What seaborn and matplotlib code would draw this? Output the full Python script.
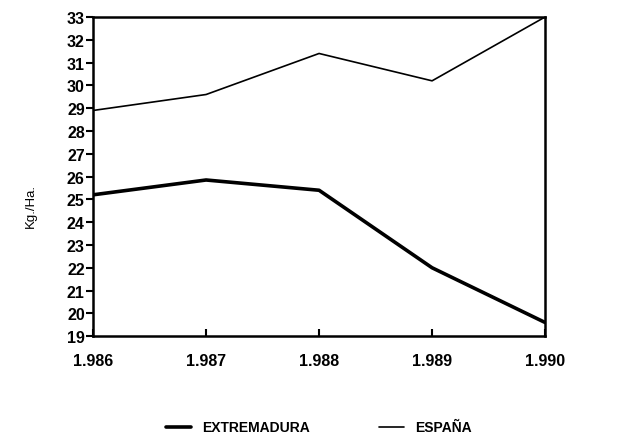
import matplotlib
matplotlib.use("Agg")
import matplotlib.pyplot as plt
import seaborn as sns
import pandas as pd

years = [1986, 1987, 1988, 1989, 1990]
year_labels = ["1.986", "1.987", "1.988", "1.989", "1.990"]
extremadura = [25.2, 25.85, 25.4, 22.0, 19.6]
espana = [28.9, 29.6, 31.4, 30.2, 33.0]

sns.set_theme(style="white")
plt.rcParams['font.family'] = ['Liberation Sans', 'DejaVu Sans']
plt.rcParams['text.color'] = 'black'
plt.rcParams['axes.labelcolor'] = 'black'
plt.rcParams['xtick.color'] = 'black'
plt.rcParams['ytick.color'] = 'black'

df = pd.DataFrame({
    "year": years * 2,
    "value": extremadura + espana,
    "serie": ["EXTREMADURA"] * 5 + ["ESPAÑA"] * 5,
})

fig = plt.figure(figsize=(6.42, 4.39), dpi=100)
ax = fig.add_axes([0.145, 0.232, 0.704, 0.727])

sns.lineplot(data=df[df.serie == "EXTREMADURA"], x="year", y="value",
             color="black", linewidth=2.6, ax=ax, label="EXTREMADURA")
sns.lineplot(data=df[df.serie == "ESPAÑA"], x="year", y="value",
             color="black", linewidth=1.2, ax=ax, label="ESPAÑA")

ax.set_xlim(1986, 1990)
ax.set_ylim(19, 33)
ax.set_yticks(range(19, 34))
ax.set_yticklabels([str(v) for v in range(19, 34)], fontsize=11.5, fontweight="bold")
ax.set_xticks(years)
ax.set_xticklabels(year_labels, fontsize=11.5, fontweight="bold")
ax.tick_params(axis="y", direction="out", length=5, width=1.5, pad=1, left=True)
ax.tick_params(axis="x", direction="in", length=5, width=1.5, pad=12, bottom=True)
for s in ax.spines.values():
    s.set_color("black")
    s.set_linewidth(1.8)
ax.set_xlabel("")
ax.set_ylabel("Kg./Ha.", fontsize=9.5)
ax.yaxis.set_label_coords(-0.125, 0.41)

leg = ax.legend(loc="upper center", bbox_to_anchor=(0.5, -0.225), ncol=2, frameon=False,
                fontsize=10, handlelength=1.8, columnspacing=5.0)
for t in leg.get_texts():
    t.set_fontweight("bold")

fig.savefig("out.png", dpi=100)
